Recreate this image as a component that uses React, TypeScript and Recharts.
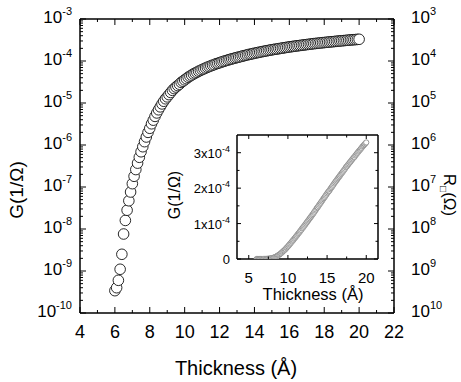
import { ScatterChart, Scatter, XAxis, YAxis } from "recharts";

// film thickness (Å) of each measurement
const thickness = [
  6.0, 6.1, 6.2, 6.3, 6.4, 6.5, 6.6, 6.7, 6.8, 6.9,
  7.0, 7.1, 7.2, 7.3, 7.4, 7.5, 7.6, 7.7, 7.8, 7.9,
  8.0, 8.1, 8.2, 8.3, 8.4, 8.5, 8.6, 8.7, 8.8, 8.9,
  9.0, 9.1, 9.2, 9.3, 9.4, 9.5, 9.6, 9.7, 9.8, 9.9,
  10.0, 10.1, 10.2, 10.3, 10.4, 10.5, 10.6, 10.7, 10.8, 10.9,
  11.0, 11.1, 11.2, 11.3, 11.4, 11.5, 11.6, 11.7, 11.8, 11.9,
  12.0, 12.1, 12.2, 12.3, 12.4, 12.5, 12.6, 12.7, 12.8, 12.9,
  13.0, 13.1, 13.2, 13.3, 13.4, 13.5, 13.6, 13.7, 13.8, 13.9,
  14.0, 14.1, 14.2, 14.3, 14.4, 14.5, 14.6, 14.7, 14.8, 14.9,
  15.0, 15.1, 15.2, 15.3, 15.4, 15.5, 15.6, 15.7, 15.8, 15.9,
  16.0, 16.1, 16.2, 16.3, 16.4, 16.5, 16.6, 16.7, 16.8, 16.9,
  17.0, 17.1, 17.2, 17.3, 17.4, 17.5, 17.6, 17.7, 17.8, 17.9,
  18.0, 18.1, 18.2, 18.3, 18.4, 18.5, 18.6, 18.7, 18.8, 18.9,
  19.0, 19.1, 19.2, 19.3, 19.4, 19.5, 19.6, 19.7, 19.8, 19.9,
  20.0,
];

// sheet conductance G (1/Ω)
const conductance = [
  3.4e-10, 4.0e-10, 6.0e-10, 1.1e-9, 2.5e-9, 7.6e-9, 1.6e-8, 2.8e-8, 4.7e-8, 7.6e-8,
  1.2e-7, 1.8e-7, 2.6e-7, 3.7e-7, 5.1e-7, 6.9e-7, 9.1e-7, 1.2e-6, 1.55e-6, 2.0e-6,
  2.5e-6, 3.2e-6, 3.9e-6, 4.8e-6, 5.8e-6, 6.9e-6, 8.1e-6, 9.5e-6, 1.1e-5, 1.26e-5,
  1.4e-5, 1.58e-5, 1.78e-5, 2.0e-5, 2.2e-5, 2.4e-5, 2.6e-5, 2.8e-5, 3.1e-5, 3.3e-5,
  3.55e-5, 3.8e-5, 4.1e-5, 4.35e-5, 4.6e-5, 4.9e-5, 5.15e-5, 5.4e-5, 5.7e-5, 5.95e-5,
  6.25e-5, 6.5e-5, 6.8e-5, 7.1e-5, 7.35e-5, 7.65e-5, 7.95e-5, 8.2e-5, 8.6e-5, 8.8e-5,
  9.1e-5, 9.4e-5, 9.7e-5, 1.0e-4, 1.03e-4, 1.06e-4, 1.09e-4, 1.12e-4, 1.15e-4, 1.18e-4,
  1.21e-4, 1.24e-4, 1.27e-4, 1.305e-4, 1.335e-4, 1.37e-4, 1.4e-4, 1.44e-4, 1.46e-4, 1.495e-4,
  1.53e-4, 1.56e-4, 1.59e-4, 1.625e-4, 1.655e-4, 1.69e-4, 1.72e-4, 1.75e-4, 1.785e-4, 1.815e-4,
  1.85e-4, 1.88e-4, 1.91e-4, 1.93e-4, 1.97e-4, 2.0e-4, 2.03e-4, 2.065e-4, 2.095e-4, 2.13e-4,
  2.16e-4, 2.19e-4, 2.22e-4, 2.25e-4, 2.28e-4, 2.31e-4, 2.34e-4, 2.37e-4, 2.4e-4, 2.43e-4,
  2.46e-4, 2.49e-4, 2.52e-4, 2.55e-4, 2.59e-4, 2.61e-4, 2.64e-4, 2.67e-4, 2.695e-4, 2.725e-4,
  2.75e-4, 2.78e-4, 2.81e-4, 2.835e-4, 2.865e-4, 2.88e-4, 2.92e-4, 2.945e-4, 2.975e-4, 3.0e-4,
  3.03e-4, 3.055e-4, 3.08e-4, 3.11e-4, 3.135e-4, 3.17e-4, 3.19e-4, 3.215e-4, 3.24e-4, 3.265e-4,
  3.29e-4,
];

// axis ticks
const xTicks = [4, 5, 6, 7, 8, 9, 10, 11, 12, 13, 14, 15, 16, 17, 18, 19, 20, 21, 22];
const xLabelled = [4, 6, 8, 10, 12, 14, 16, 18, 20, 22];
const gExponents = [-10, -9, -8, -7, -6, -5, -4, -3];
const rExponents = [10, 9, 8, 7, 6, 5, 4, 3];
const minorMantissas = [2, 3, 4, 5, 6, 7, 8, 9];

const insetXTicks = [5, 7.5, 10, 12.5, 15, 17.5, 20];
const insetXLabelled = [5, 10, 15, 20];
const insetYTicks = [0, 0.5e-4, 1e-4, 1.5e-4, 2e-4, 2.5e-4, 3e-4];
const insetYLabels = ["0", "", "1x10", "", "2x10", "", "3x10"];

const FONT = "'Liberation Sans', Arial, Helvetica, sans-serif";

const logTicks: number[] = [];
gExponents.forEach((e, i) => {
  logTicks.push(Math.pow(10, e));
  if (i < gExponents.length - 1) minorMantissas.forEach((m) => logTicks.push(m * Math.pow(10, e)));
});

const data = thickness.map((t, i) => ({ t, g: conductance[i] }));

const decade = (v: number) => {
  const e = Math.log10(v);
  const r = Math.round(e);
  return Math.abs(e - r) < 1e-6 ? r : null;
};

const Sup = ({ x, y, base, exp, anchor, size, supSize }: any) => (
  <text x={x} y={y} textAnchor={anchor} fontFamily={FONT} fontSize={size} fill="#000">
    <tspan>{base}</tspan>
    {exp !== "" && (
      <tspan dy={-size * 0.45} fontSize={supSize}>
        {exp}
      </tspan>
    )}
  </text>
);

// ---- main chart ticks (drawn inward) ----
const LeftTick = ({ x, y, payload }: any) => {
  const e = decade(payload.value);
  return (
    <g>
      <line x1={x} y1={y} x2={x + (e !== null ? 6 : 3)} y2={y} stroke="#000" />
      {e !== null && <Sup x={x - 8} y={y + 4} base="10" exp={String(e)} anchor="end" size={17} supSize={11} />}
    </g>
  );
};

const RightTick = ({ x, y, payload }: any) => {
  const e = decade(payload.value);
  const r = e !== null ? rExponents[gExponents.indexOf(e)] : null;
  return (
    <g>
      <line x1={x} y1={y} x2={x - (e !== null ? 6 : 3)} y2={y} stroke="#000" />
      {r !== null && <Sup x={x + 17} y={y + 4} base="10" exp={String(r)} anchor="start" size={17} supSize={11} />}
    </g>
  );
};

const BottomTick = ({ x, y, payload }: any) => {
  const major = xLabelled.includes(payload.value);
  return (
    <g>
      <line x1={x} y1={y} x2={x} y2={y - (major ? 6 : 3)} stroke="#000" />
      {major && (
        <text x={x} y={y + 25} textAnchor="middle" fontFamily={FONT} fontSize={18} fill="#000">
          {payload.value}
        </text>
      )}
    </g>
  );
};

const TopTick = ({ x, y, payload }: any) => {
  const major = xLabelled.includes(payload.value);
  return <line x1={x} y1={y} x2={x} y2={y + (major ? 6 : 3)} stroke="#000" />;
};

// ---- inset ticks ----
const InsetLeftTick = ({ x, y, payload }: any) => {
  const i = insetYTicks.indexOf(payload.value);
  const label = insetYLabels[i];
  return (
    <g>
      <line x1={x} y1={y} x2={x + (label ? 4 : 2.5)} y2={y} stroke="#000" />
      {label && (
        <Sup x={x - 7} y={y + 5} base={label} exp={label === "0" ? "" : "-4"} anchor="end" size={13} supSize={9} />
      )}
    </g>
  );
};

const InsetRightTick = ({ x, y, payload }: any) => {
  const i = insetYTicks.indexOf(payload.value);
  return <line x1={x} y1={y} x2={x - (insetYLabels[i] ? 4 : 2.5)} y2={y} stroke="#000" />;
};

const InsetBottomTick = ({ x, y, payload }: any) => {
  const major = insetXLabelled.includes(payload.value);
  return (
    <g>
      <line x1={x} y1={y} x2={x} y2={y - (major ? 4 : 2.5)} stroke="#000" />
      {major && (
        <text x={x} y={y + 24} textAnchor="middle" fontFamily={FONT} fontSize={15} fill="#000">
          {payload.value}
        </text>
      )}
    </g>
  );
};

const InsetTopTick = ({ x, y, payload }: any) => {
  const major = insetXLabelled.includes(payload.value);
  return <line x1={x} y1={y} x2={x} y2={y + (major ? 4 : 2.5)} stroke="#000" />;
};

const axisLine = { stroke: "#000", strokeWidth: 1.5 };
const noDot = () => <g />;

export default function App() {
  return (
    <div style={{ position: "absolute", left: 0, top: 0, width: 461, height: 382, background: "#fff" }}>
      <ScatterChart width={461} height={382} margin={{ top: 0, right: 0, bottom: 0, left: 0 }}>
        <XAxis
          xAxisId="b"
          dataKey="t"
          type="number"
          domain={[4, 22]}
          ticks={xTicks}
          interval={0}
          allowDataOverflow
          tickSize={0}
          tickMargin={0}
          tick={BottomTick}
          axisLine={axisLine}
          height={69}
        />
        <XAxis
          xAxisId="t"
          orientation="top"
          dataKey="t"
          type="number"
          domain={[4, 22]}
          ticks={xTicks}
          interval={0}
          allowDataOverflow
          tickSize={0}
          tickMargin={0}
          tick={TopTick}
          axisLine={axisLine}
          height={19}
        />
        <YAxis
          yAxisId="l"
          dataKey="g"
          type="number"
          scale="log"
          domain={[1e-10, 1e-3]}
          ticks={logTicks}
          interval={0}
          allowDataOverflow
          tickSize={0}
          tickMargin={0}
          tick={LeftTick}
          axisLine={axisLine}
          width={80}
        />
        <YAxis
          yAxisId="r"
          orientation="right"
          dataKey="g"
          type="number"
          scale="log"
          domain={[1e-10, 1e-3]}
          ticks={logTicks}
          interval={0}
          allowDataOverflow
          tickSize={0}
          tickMargin={0}
          tick={RightTick}
          axisLine={axisLine}
          width={67}
        />
        <Scatter xAxisId="t" yAxisId="r" data={data} shape={noDot} isAnimationActive={false} />
        <Scatter
          xAxisId="b"
          yAxisId="l"
          data={data}
          isAnimationActive={false}
          shape={(p: any) => <circle cx={p.cx} cy={p.cy} r={5.3} fill="#fff" stroke="#111" strokeWidth={0.9} />}
        />
      </ScatterChart>

      <svg width={461} height={382} style={{ position: "absolute", left: 0, top: 0, pointerEvents: "none" }}>
        <text x={236} y={375} textAnchor="middle" fontFamily={FONT} fontSize={20} fill="#000">
          Thickness (Å)
        </text>
        <text transform="translate(23,190) rotate(-90)" textAnchor="middle" fontFamily={FONT} fontSize={19} fill="#000">
          G(1/Ω)
        </text>
        <text transform="translate(444,195) rotate(90)" textAnchor="middle" fontFamily={FONT} fontSize={17} fill="#000">
          R
          <tspan dy={4} fontSize={10}>□</tspan>
          <tspan dy={-4}>(Ω)</tspan>
        </text>
      </svg>

      <div style={{ position: "absolute", left: 160, top: 125 }}>
        <ScatterChart width={225} height={185} margin={{ top: 0, right: 0, bottom: 0, left: 0 }}>
          <XAxis
            xAxisId="b"
            dataKey="t"
            type="number"
            domain={[3.5, 21.5]}
            ticks={insetXTicks}
            interval={0}
            allowDataOverflow
            tickSize={0}
            tickMargin={0}
            tick={InsetBottomTick}
            axisLine={axisLine}
            height={51}
          />
          <XAxis
            xAxisId="t"
            orientation="top"
            dataKey="t"
            type="number"
            domain={[3.5, 21.5]}
            ticks={insetXTicks}
            interval={0}
            allowDataOverflow
            tickSize={0}
            tickMargin={0}
            tick={InsetTopTick}
            axisLine={axisLine}
            height={10}
          />
          <YAxis
            yAxisId="l"
            dataKey="g"
            type="number"
            domain={[0, 3.5e-4]}
            ticks={insetYTicks}
            interval={0}
            allowDataOverflow
            tickSize={0}
            tickMargin={0}
            tick={InsetLeftTick}
            axisLine={axisLine}
            width={77}
          />
          <YAxis
            yAxisId="r"
            orientation="right"
            dataKey="g"
            type="number"
            domain={[0, 3.5e-4]}
            ticks={insetYTicks}
            interval={0}
            allowDataOverflow
            tickSize={0}
            tickMargin={0}
            tick={InsetRightTick}
            axisLine={axisLine}
            width={7}
          />
          <Scatter xAxisId="t" yAxisId="r" data={data} shape={noDot} isAnimationActive={false} />
          <Scatter
            xAxisId="b"
            yAxisId="l"
            data={data}
            isAnimationActive={false}
            shape={(p: any) => <circle cx={p.cx} cy={p.cy} r={2.6} fill="#fff" stroke="#8c8c8c" strokeWidth={0.9} />}
          />
        </ScatterChart>
        <svg width={225} height={185} style={{ position: "absolute", left: 0, top: 0, pointerEvents: "none" }}>
          <text x={153} y={175} textAnchor="middle" fontFamily={FONT} fontSize={16.5} fill="#000">
            Thickness (Å)
          </text>
          <text transform="translate(20,70) rotate(-90)" textAnchor="middle" fontFamily={FONT} fontSize={16} fill="#000">
            G(1/Ω)
          </text>
        </svg>
      </div>
    </div>
  );
}
